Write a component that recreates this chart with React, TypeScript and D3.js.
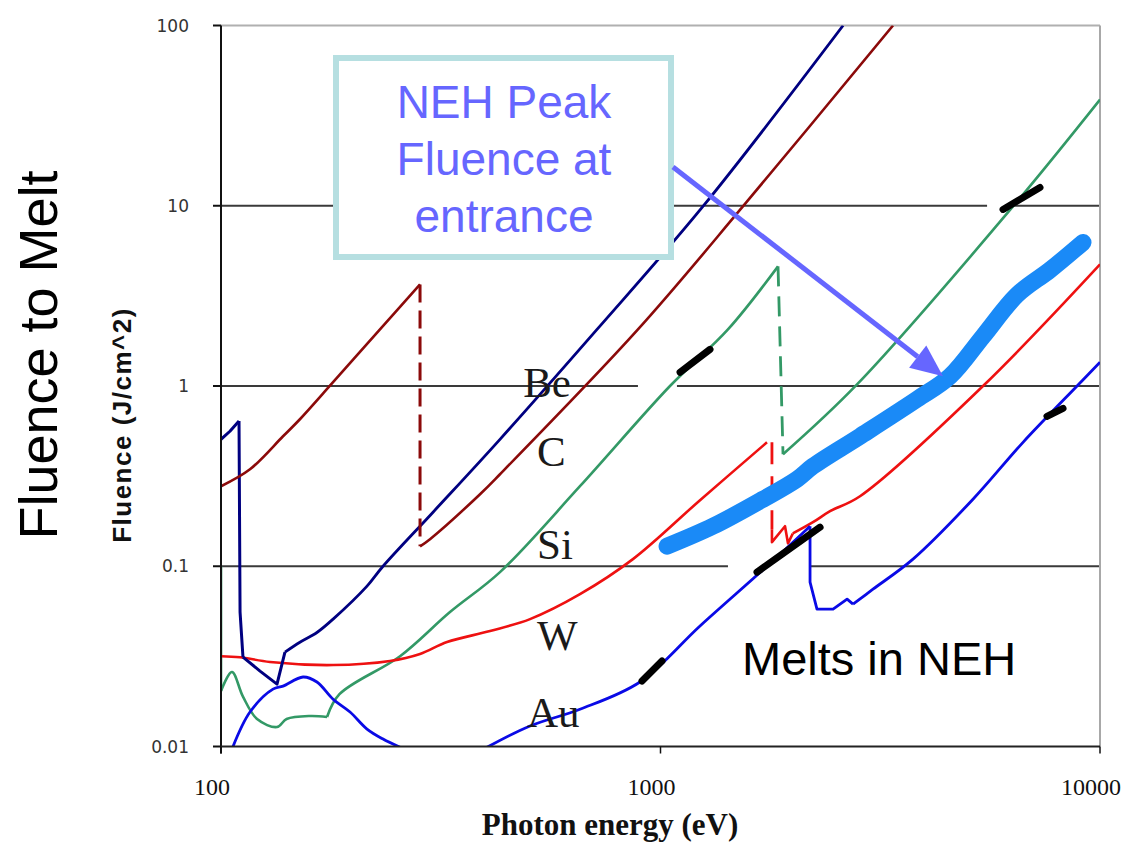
import React from 'react';
import * as d3 from 'd3';

type P = [number, number];

// Axis ticks
const xTicks = [100, 1000, 10000];
const xTickLabels = ['100', '1000', '10000'];
const yTicks = [100, 10, 1, 0.1, 0.01];
const yTickLabels = ['100', '10', '1', '0.1', '0.01'];

// Be (navy)
const beHead: P[] = [[100, 0.506], [104.8, 0.561], [109.9, 0.64]];
const beDrop: P[] = [[109.9, 0.64], [110.5, 0.0557], [112.2, 0.0313]];
const beMin: P[] = [[112.2, 0.0313], [122.7, 0.0262], [134.1, 0.0222], [139.8, 0.0334]];
const beTail: P[] = [
  [139.8, 0.0334], [151.2, 0.0379], [165.3, 0.0429], [179.9, 0.0509], [214.9, 0.0776],
  [233.7, 0.1], [303.7, 0.1995], [431.3, 0.506], [717.1, 2.06], [1249, 9.91], [2603, 100],
];

// C (dark red)
const cRise: P[] = [
  [100, 0.278], [116.4, 0.345], [138.4, 0.526], [151.2, 0.654], [179.9, 1.05],
  [230.0, 2.06], [283.7, 3.66],
];
const cDrop: P[] = [[283.7, 3.66], [283.7, 0.129]];
const cTail: P[] = [
  [283.7, 0.129], [298.9, 0.1413], [388.5, 0.251], [431.3, 0.324], [888.6, 2.06], [1540, 9.91], [3381, 100],
];

// Si (green)
const siEdge: P[] = [[100, 0.1], [100, 0.0203]];
const siLow: P[] = [
  [100, 0.0203], [105.9, 0.0259], [112.2, 0.0189], [120.8, 0.0142], [134.1, 0.01282],
  [141, 0.0142], [159.4, 0.01476], [174.3, 0.01458],
];
const siRise: P[] = [
  [174.3, 0.01458], [186, 0.0195], [255.5, 0.0317], [331.9, 0.0557], [431.3, 0.0928],
  [655.8, 0.278], [1051, 1.0], [1424, 2.06], [1851, 4.61],
];
const siDrop: P[] = [[1851, 4.61], [1900, 0.418]];
const siTail: P[] = [[1900, 0.418], [2800, 1.02], [6339, 9.91], [10000, 38.8]];

// W (red)
const wRise: P[] = [
  [100, 0.0317], [110.5, 0.0313], [129.3, 0.0294], [179.9, 0.0283], [242.4, 0.0298],
  [283.7, 0.0326], [326.8, 0.038], [409.4, 0.0437], [504.8, 0.0509], [655.8, 0.07],
  [865.5, 0.1095], [1230, 0.2325], [1747, 0.487],
];
const wDrop: P[] = [[1793, 0.487], [1793, 0.1606]];
const wZig: P[] = [[1793, 0.1606], [1793, 0.136], [1920, 0.1668], [1950, 0.134], [2000, 0.152]];
const wTail: P[] = [
  [2000, 0.152], [2223, 0.1755], [2431, 0.202], [2844, 0.2446], [5418, 1.0], [10000, 4.73],
];

// Au (blue)
const auLow: P[] = [
  [106.5, 0.01], [116.4, 0.01553], [131.3, 0.0208], [138.4, 0.02164], [153.7, 0.0243],
  [165.3, 0.0228], [179.9, 0.0183], [196.6, 0.01553], [214.9, 0.0125], [233.7, 0.011], [255.5, 0.0099],
];
const auHigh: P[] = [
  [402.9, 0.0099], [504.8, 0.013], [655.8, 0.0161], [898.1, 0.0228], [1230, 0.0466], [1747, 0.1],
  [2189, 0.1668],
];
const auDrop: P[] = [[2189, 0.1668], [2189, 0.0816], [2270, 0.0578], [2470, 0.0578], [2658, 0.0657], [2742, 0.0616]];
const auTail: P[] = [
  [2742, 0.0616], [3044, 0.0746], [3754, 0.1095], [5140, 0.2354], [6681, 0.487], [8867, 1.0], [10000, 1.353],
];

// NEH peak fluence at entrance (light blue band)
const nehPeak: P[] = [
  [1035, 0.1292], [1317, 0.1668], [1711, 0.2354], [2045, 0.304], [2223, 0.359], [2844, 0.526],
  [3834, 0.844], [4558, 1.132], [5418, 1.886], [6475, 3.2], [7694, 4.4], [9148, 6.26],
];

// Black scan marks overlaying the curves
const scanMarks: [P, P][] = [
  [[1108, 1.191], [1296, 1.597]],
  [[907.7, 0.02307], [1008, 0.0298]],
  [[1658, 0.0928], [2307, 0.1647]],
  [[6017, 9.54], [7302, 12.63]],
  [[7575, 0.679], [8239, 0.752]],
];

// Gridline segments (energy ranges) per fluence level
const gridLevels = [10, 1, 0.1];
const gridRanges: P[][] = [
  [[100, 5534], [6078, 10000]],
  [[100, 888.6], [1090, 10000]],
  [[100, 1424], [2200, 10000]],
];

// Curve labels (anchored in data units)
const curveLabels = ['Be', 'C', 'Si', 'W', 'Au'];
const curveLabelE = [487, 523.6, 523.6, 523.6, 496.8];
const curveLabelF = [0.866, 0.359, 0.1104, 0.0345, 0.01282];

const arrowTip: P = [4393, 1.132];

export default function App() {
  const x = d3.scaleLog().domain([100, 10000]).range([221, 1100]);
  const y = d3.scaleLog().domain([0.01, 100]).range([746.5, 25.5]);
  const smooth = d3.line<P>().x((d) => x(d[0])).y((d) => y(d[1])).curve(d3.curveCatmullRom.alpha(0.5));
  const straight = d3.line<P>().x((d) => x(d[0])).y((d) => y(d[1]));

  const x0 = x(100), x1 = x(10000), yTop = y(100), yBot = y(0.01);

  // arrow geometry
  const ax0 = 673, ay0 = 167;
  const tx = x(arrowTip[0]), ty = y(arrowTip[1]);
  const dx = tx - ax0, dy = ty - ay0;
  const len = Math.hypot(dx, dy);
  const ux = dx / len, uy = dy / len;
  const hl = 32, hw = 14;
  const bx = tx - ux * hl, by = ty - uy * hl;
  const head = `${tx},${ty} ${bx - uy * hw},${by + ux * hw} ${bx + uy * hw},${by - ux * hw}`;

  const serif = '"Liberation Serif", "Times New Roman", serif';
  const sans = '"Liberation Sans", Arial, sans-serif';

  const navy = '#000080', dred = '#8b0a0a', green = '#339966', red = '#ee1111', blue = '#0a0ae6';

  return (
    <svg width={1122} height={842} style={{ position: 'absolute', left: 0, top: 0, background: '#fff' }}>
      <defs>
        <clipPath id="plot">
          <rect x={x0} y={yTop} width={x1 - x0} height={yBot - yTop} />
        </clipPath>
      </defs>
      <rect x={0} y={0} width={1122} height={842} fill="#fff" />

      {/* gridlines */}
      {gridLevels.map((lv, i) =>
        gridRanges[i].map((r, j) => (
          <line key={`g${i}-${j}`} x1={x(r[0])} x2={x(r[1])} y1={y(lv)} y2={y(lv)} stroke="#3a3a3a" strokeWidth={1.8} />
        ))
      )}
      {/* frame */}
      <line x1={x0} x2={x1} y1={yTop} y2={yTop} stroke="#b0b0b0" strokeWidth={2} />
      <line x1={x1} x2={x1} y1={yTop} y2={yBot} stroke="#a8a8a8" strokeWidth={2} />

      <g clipPath="url(#plot)" fill="none" strokeLinejoin="round">
        <path d={straight(siEdge)!} stroke={green} strokeWidth={2.6} />
        <path d={smooth(siLow)!} stroke={green} strokeWidth={2.6} />
        <path d={smooth(siRise)!} stroke={green} strokeWidth={2.6} />
        <path d={straight(siDrop)!} stroke={green} strokeWidth={2.8} strokeDasharray="20,10" />
        <path d={smooth(siTail)!} stroke={green} strokeWidth={2.6} />
        <path d={smooth(wRise)!} stroke={red} strokeWidth={2.6} />
        <path d={straight(wDrop)!} stroke={red} strokeWidth={2.8} strokeDasharray="22,12" />
        <path d={straight(wZig)!} stroke={red} strokeWidth={2.6} />
        <path d={smooth(wTail)!} stroke={red} strokeWidth={2.6} />
        <path d={straight(beHead)!} stroke={navy} strokeWidth={3} />
        <path d={straight(beDrop)!} stroke={navy} strokeWidth={3} />
        <path d={straight(beMin)!} stroke={navy} strokeWidth={3} />
        <path d={smooth(beTail)!} stroke={navy} strokeWidth={2.8} />
        <path d={smooth(cRise)!} stroke={dred} strokeWidth={2.6} />
        <path d={straight(cDrop)!} stroke={dred} strokeWidth={3} strokeDasharray="18,8" />
        <path d={smooth(cTail)!} stroke={dred} strokeWidth={2.6} />
        <path d={smooth(auLow)!} stroke={blue} strokeWidth={2.8} />
        <path d={smooth(auHigh)!} stroke={blue} strokeWidth={2.8} />
        <path d={straight(auDrop)!} stroke={blue} strokeWidth={2.8} />
        <path d={smooth(auTail)!} stroke={blue} strokeWidth={2.8} />
        <path d={smooth(nehPeak)!} stroke="#1a8af7" strokeWidth={17} strokeLinecap="round" />
        {scanMarks.map((s, i) => (
          <line key={`m${i}`} x1={x(s[0][0])} y1={y(s[0][1])} x2={x(s[1][0])} y2={y(s[1][1])}
            stroke="#000" strokeWidth={7} strokeLinecap="round" />
        ))}
      </g>

      {/* axes */}
      <line x1={x0} x2={x0} y1={yTop} y2={yBot + 7} stroke="#111" strokeWidth={2} />
      <line x1={x0} x2={x1} y1={yBot} y2={yBot} stroke="#222" strokeWidth={2} />
      {yTicks.map((t, i) => (
        <g key={`yt${i}`}>
          <line x1={x0 - 8} x2={x0} y1={y(t)} y2={y(t)} stroke="#111" strokeWidth={2} />
          <text x={189} y={y(t)} dy="0.36em" textAnchor="end" fontFamily='"DejaVu Sans", Verdana, sans-serif'
            fontSize={17} fill="#333">{yTickLabels[i]}</text>
        </g>
      ))}
      {xTicks.map((t, i) => (
        <g key={`xt${i}`}>
          <line x1={x(t)} x2={x(t)} y1={yBot} y2={yBot + 7} stroke="#111" strokeWidth={1.5} />
          <text x={x(t) - 9} y={795} textAnchor="middle" fontFamily={serif} fontSize={24} fill="#111">
            {xTickLabels[i]}
          </text>
        </g>
      ))}

      {/* curve labels */}
      {curveLabels.map((c, i) => (
        <text key={`cl${i}`} x={x(curveLabelE[i])} y={y(curveLabelF[i])} fontFamily={serif} fontSize={43} fill="#1a1a1a">
          {c}
        </text>
      ))}

      {/* axis titles */}
      <text x={610} y={835} textAnchor="middle" fontFamily={serif} fontWeight="bold" fontSize={31} fill="#111">
        Photon energy (eV)
      </text>
      <text transform="translate(131,425) rotate(-90)" textAnchor="middle" fontFamily={sans} fontWeight="bold"
        fontSize={26} letterSpacing={1.5} fill="#111">
        Fluence  (J/cm^2)
      </text>
      <text transform="translate(57,355) rotate(-90)" textAnchor="middle" fontFamily={sans} fontSize={54} fill="#000">
        Fluence to Melt
      </text>

      {/* callout */}
      <rect x={336} y={58} width={335} height={199} fill="#fff" stroke="#b6dfe1" strokeWidth={6} />
      <g fontFamily={sans} fontSize={46} fill="#6666ff" textAnchor="middle">
        <text x={504} y={118}>NEH Peak</text>
        <text x={504} y={175}>Fluence at</text>
        <text x={504} y={232}>entrance</text>
      </g>
      <line x1={ax0} y1={ay0} x2={bx} y2={by} stroke="#6666ff" strokeWidth={5} />
      <polygon points={head} fill="#6666ff" />

      <text x={742} y={675} fontFamily={sans} fontSize={47} fill="#000">Melts in NEH</text>
    </svg>
  );
}
